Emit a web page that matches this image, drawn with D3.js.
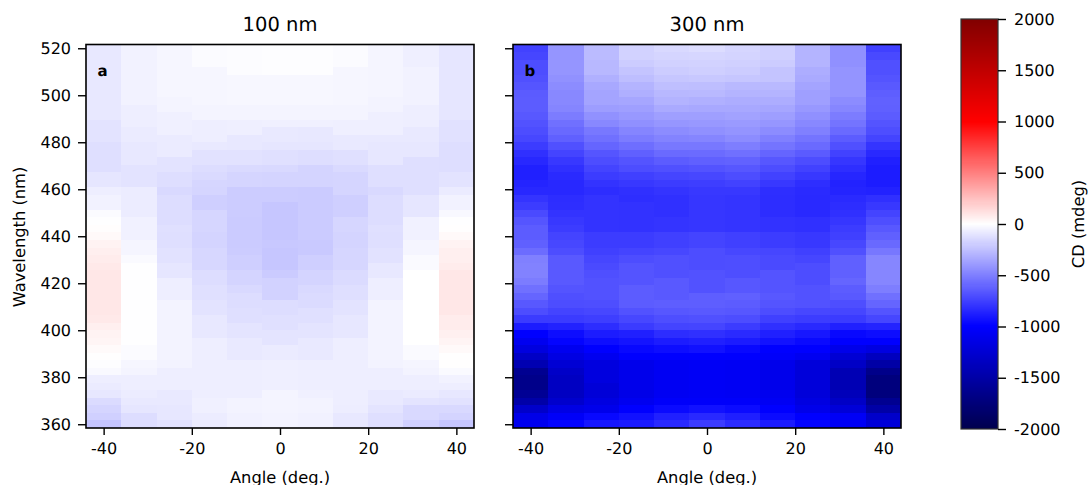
<!DOCTYPE html>
<html>
<head>
<meta charset="utf-8">
<script src="https://cdn.jsdelivr.net/npm/d3@7"></script>
<style>
  body { margin: 0; background: #fff; }
  text { font-family: "DejaVu Sans", sans-serif; fill: #000; text-rendering: geometricPrecision; }
</style>
</head>
<body>
<script>
// angle columns and wavelength rows (top row first)
var angles = [-40, -32, -24, -16, -8, 0, 8, 16, 24, 32, 40];
var wavelengths = [520, 516.8, 513.6, 510.4, 507.2, 504, 500.8, 497.6, 494.4, 491.2, 488, 484.8, 481.6, 478.4, 475.2, 472, 468.8, 465.6, 462.4, 459.2, 456, 452.8, 449.6, 446.4, 443.2, 440, 436.8, 433.6, 430.4, 427.2, 424, 420.8, 417.6, 414.4, 411.2, 408, 404.8, 401.6, 398.4, 395.2, 392, 388.8, 385.6, 382.4, 379.2, 376, 372.8, 369.6, 366.4, 363.2, 360];
var xTicks = [-40, -20, 0, 20, 40];
var yTicks = [360, 380, 400, 420, 440, 460, 480, 500, 520];
var cbarTicks = [-2000, -1500, -1000, -500, 0, 500, 1000, 1500, 2000];

// CD values for the 100 nm panel, one list per angle
var cd100 = [
  [-90,-90,-90,-90,-90,-90,-90,-90,-90,-90,-110,-110,-110,-125,-125,-125,-125,-100,-100,-65,-50,-50,-15,-3,6,24,46,62,75,85,94,94,94,94,94,94,85,62,46,38,20,3,-8,-25,-65,-80,-95,-140,-165,-185,-230],
  [-50,-50,-50,-50,-50,-50,-50,-50,-65,-65,-65,-80,-80,-90,-90,-90,-110,-110,-110,-75,-75,-75,-75,-55,-55,-55,-40,-40,-20,-2,-2,-2,-2,-2,-2,-2,-2,-2,-2,-2,-15,-15,-35,-45,-65,-65,-75,-85,-100,-135,-135],
  [-35,-35,-35,-35,-35,-35,-35,-45,-45,-60,-60,-60,-80,-80,-80,-110,-110,-130,-130,-150,-135,-135,-135,-135,-120,-125,-125,-115,-115,-100,-100,-65,-65,-65,-48,-48,-48,-48,-48,-48,-48,-48,-48,-65,-65,-65,-85,-85,-95,-95,-115],
  [-15,-15,-15,-35,-35,-35,-35,-35,-45,-45,-65,-65,-65,-85,-115,-115,-135,-145,-160,-165,-190,-190,-160,-160,-160,-170,-170,-155,-155,-155,-135,-135,-120,-120,-110,-110,-90,-90,-90,-65,-65,-65,-65,-65,-65,-65,-65,-60,-60,-75,-75],
  [-12,-12,-12,-12,-32,-32,-32,-32,-45,-45,-62,-62,-90,-90,-115,-115,-145,-165,-165,-200,-200,-200,-200,-205,-205,-205,-205,-200,-190,-190,-170,-170,-150,-135,-135,-125,-125,-105,-105,-85,-85,-85,-65,-65,-65,-65,-65,-48,-48,-55,-55],
  [-8,-8,-8,-8,-32,-32,-32,-32,-45,-45,-58,-85,-85,-100,-120,-120,-150,-170,-170,-200,-200,-225,-225,-225,-225,-225,-215,-225,-225,-225,-205,-175,-175,-175,-135,-135,-120,-120,-105,-105,-80,-80,-62,-62,-62,-62,-42,-42,-42,-48,-48],
  [-8,-8,-8,-8,-33,-33,-33,-33,-45,-45,-58,-90,-90,-100,-130,-130,-170,-170,-170,-205,-205,-205,-205,-205,-205,-205,-210,-210,-190,-190,-170,-170,-150,-140,-140,-120,-120,-105,-105,-85,-85,-85,-65,-65,-65,-65,-58,-48,-48,-55,-55],
  [-15,-15,-15,-35,-35,-35,-35,-35,-45,-45,-62,-62,-85,-85,-120,-120,-145,-165,-165,-165,-190,-190,-190,-160,-160,-170,-170,-160,-160,-160,-140,-140,-125,-125,-110,-110,-95,-95,-95,-65,-65,-65,-65,-65,-65,-65,-65,-65,-72,-90,-90],
  [-38,-38,-38,-38,-38,-38,-38,-48,-48,-62,-62,-62,-85,-95,-95,-95,-125,-125,-125,-150,-135,-135,-135,-135,-120,-125,-125,-115,-115,-90,-90,-65,-65,-65,-48,-48,-48,-48,-48,-48,-48,-48,-48,-65,-65,-65,-85,-85,-105,-125,-125],
  [-62,-62,-62,-52,-52,-52,-52,-52,-65,-65,-65,-85,-85,-95,-95,-125,-125,-125,-125,-125,-100,-100,-100,-55,-55,-55,-40,-40,-20,-20,0,0,0,0,0,0,0,0,0,0,-18,-18,-38,-48,-65,-65,-78,-105,-150,-150,-185],
  [-100,-100,-100,-100,-100,-100,-100,-100,-100,-100,-118,-118,-118,-130,-130,-130,-130,-110,-110,-80,-52,-52,-28,-5,4,24,46,62,62,75,94,94,94,94,94,94,75,75,58,42,24,3,3,-20,-50,-65,-95,-115,-150,-170,-225]
];

// CD values for the 300 nm panel, one list per angle
var cd300 = [
  [-740,-725,-700,-700,-685,-665,-645,-640,-640,-655,-680,-700,-720,-765,-810,-845,-875,-875,-860,-845,-795,-765,-710,-665,-640,-640,-625,-575,-500,-490,-490,-515,-560,-605,-655,-700,-770,-890,-1000,-1085,-1180,-1320,-1430,-1620,-1660,-1660,-1600,-1490,-1300,-1130,-1085],
  [-415,-415,-415,-415,-430,-450,-465,-465,-480,-515,-560,-590,-625,-685,-735,-780,-810,-835,-845,-845,-825,-820,-800,-780,-765,-735,-720,-700,-650,-650,-650,-650,-670,-690,-700,-735,-770,-865,-950,-985,-1085,-1160,-1240,-1310,-1340,-1340,-1340,-1280,-1150,-1040,-985],
  [-265,-265,-280,-280,-310,-340,-355,-355,-385,-430,-465,-530,-560,-605,-665,-700,-735,-765,-800,-825,-800,-800,-800,-800,-800,-765,-765,-750,-725,-710,-690,-680,-680,-680,-695,-720,-755,-825,-890,-945,-1000,-1085,-1180,-1180,-1180,-1220,-1220,-1170,-1110,-970,-915],
  [-175,-175,-200,-230,-255,-295,-315,-350,-375,-405,-435,-480,-515,-570,-625,-670,-700,-750,-780,-810,-820,-805,-805,-805,-805,-765,-765,-735,-700,-670,-670,-670,-640,-640,-640,-680,-720,-770,-875,-920,-970,-1000,-1110,-1110,-1110,-1110,-1130,-1085,-1000,-935,-900],
  [-150,-165,-180,-200,-225,-250,-280,-300,-335,-375,-410,-450,-485,-530,-585,-640,-685,-730,-765,-795,-810,-810,-810,-795,-795,-750,-750,-720,-685,-685,-685,-650,-650,-650,-630,-660,-695,-735,-825,-890,-950,-1000,-1070,-1070,-1070,-1070,-1070,-1030,-960,-875,-840],
  [-135,-160,-175,-190,-215,-255,-275,-310,-340,-375,-405,-435,-480,-530,-580,-625,-675,-720,-755,-780,-790,-790,-790,-790,-790,-735,-735,-700,-700,-700,-680,-680,-680,-630,-630,-650,-685,-730,-810,-875,-935,-1000,-1050,-1050,-1050,-1050,-1050,-1030,-935,-840,-765],
  [-160,-170,-185,-200,-225,-275,-295,-320,-340,-365,-395,-420,-450,-505,-560,-615,-660,-700,-740,-780,-795,-795,-795,-795,-795,-750,-750,-720,-695,-695,-695,-660,-660,-625,-640,-660,-700,-765,-835,-895,-970,-1000,-1060,-1060,-1060,-1060,-1060,-1030,-955,-880,-830],
  [-185,-185,-200,-230,-230,-275,-295,-320,-350,-380,-410,-450,-500,-545,-605,-660,-700,-740,-780,-820,-825,-825,-825,-805,-805,-765,-765,-725,-710,-710,-670,-670,-670,-655,-670,-700,-750,-810,-875,-930,-1000,-1030,-1110,-1110,-1110,-1110,-1090,-1060,-1000,-955,-895],
  [-295,-295,-295,-320,-335,-355,-375,-375,-405,-435,-465,-500,-545,-585,-645,-700,-740,-780,-820,-835,-840,-840,-840,-810,-810,-780,-780,-750,-725,-700,-700,-700,-680,-680,-680,-720,-765,-840,-910,-960,-1000,-1080,-1210,-1210,-1210,-1210,-1210,-1170,-1120,-1000,-985],
  [-435,-435,-435,-420,-420,-420,-420,-450,-475,-515,-545,-585,-640,-685,-740,-790,-820,-850,-865,-860,-835,-825,-810,-790,-765,-750,-720,-685,-625,-625,-625,-605,-640,-650,-695,-725,-770,-875,-970,-1000,-1120,-1240,-1320,-1420,-1420,-1420,-1390,-1320,-1220,-1050,-1050],
  [-750,-715,-685,-685,-670,-650,-630,-620,-625,-640,-670,-695,-735,-795,-840,-875,-890,-890,-890,-865,-810,-780,-735,-695,-655,-625,-590,-535,-475,-475,-475,-475,-505,-560,-605,-670,-725,-860,-950,-1000,-1170,-1360,-1500,-1660,-1730,-1730,-1730,-1620,-1500,-1300,-1220]
];

var panels = [
  { title: '100 nm', tag: 'a', left: 86, right: 474, values: cd100, yLabels: true },
  { title: '300 nm', tag: 'b', left: 513, right: 901, values: cd300, yLabels: false }
];

var plotTop = 44.5, plotBottom = 428;

// same stops as the seismic colormap
var color = d3.scaleLinear()
  .domain([-2000, -1000, 0, 1000, 2000])
  .range(['rgb(0,0,77)', 'rgb(0,0,255)', 'rgb(255,255,255)', 'rgb(255,0,0)', 'rgb(128,0,0)'])
  .clamp(true);

var svg = d3.select('body').append('svg')
  .attr('width', 1088)
  .attr('height', 485)
  .style('display', 'block');

function styleAxis(g) {
  g.select('.domain').remove();
  g.selectAll('.tick line').attr('stroke', '#000').attr('stroke-width', 1.4);
  g.selectAll('.tick text').attr('font-size', 16).attr('font-family', '"DejaVu Sans", sans-serif');
}

panels.forEach(function (p) {
  var x = d3.scaleLinear().domain([-44, 44]).range([p.left, p.right]);
  var y = d3.scaleLinear().domain([358.4, 521.6]).range([plotBottom, plotTop]);
  var g = svg.append('g');

  // one rect per angle/wavelength cell
  angles.forEach(function (a, ci) {
    g.selectAll(null)
      .data(wavelengths)
      .enter()
      .append('rect')
      .attr('x', x(a - 4))
      .attr('width', x(a + 4) - x(a - 4))
      .attr('y', function (w) { return y(w + 1.6); })
      .attr('height', function (w) { return y(w - 1.6) - y(w + 1.6); })
      .attr('fill', function (w, ri) { return color(p.values[ci][ri]); })
      .attr('shape-rendering', 'crispEdges');
  });

  g.append('rect')
    .attr('x', p.left).attr('y', plotTop)
    .attr('width', p.right - p.left).attr('height', plotBottom - plotTop)
    .attr('fill', 'none').attr('stroke', '#000').attr('stroke-width', 1.6);

  g.append('g')
    .attr('transform', 'translate(0,' + plotBottom + ')')
    .call(d3.axisBottom(x).tickValues(xTicks).tickSize(7).tickPadding(8).tickFormat(String))
    .call(styleAxis);

  g.append('g')
    .attr('transform', 'translate(' + p.left + ',0)')
    .call(d3.axisLeft(y).tickValues(yTicks).tickSize(8).tickPadding(7)
      .tickFormat(p.yLabels ? String : function () { return ''; }))
    .call(styleAxis);

  g.append('text')
    .attr('x', (p.left + p.right) / 2).attr('y', 31)
    .attr('text-anchor', 'middle').attr('font-size', 19.5)
    .text(p.title);

  g.append('text')
    .attr('x', (p.left + p.right) / 2).attr('y', 482.5)
    .attr('text-anchor', 'middle').attr('font-size', 16.3)
    .text('Angle (deg.)');

  g.append('text')
    .attr('x', p.left + 11.5).attr('y', 76)
    .attr('font-size', 15).attr('font-weight', 'bold')
    .text(p.tag);
});

svg.append('text')
  .attr('transform', 'translate(25,237) rotate(-90)')
  .attr('text-anchor', 'middle').attr('font-size', 16.3)
  .text('Wavelength (nm)');

// colorbar
var cbLeft = 961, cbRight = 998, cbTop = 19, cbBottom = 429;
var cbScale = d3.scaleLinear().domain([-2000, 2000]).range([cbBottom, cbTop]);

svg.append('g').selectAll('rect')
  .data(d3.range(-2000, 2000, 10))
  .enter()
  .append('rect')
  .attr('x', cbLeft)
  .attr('width', cbRight - cbLeft)
  .attr('y', function (d) { return cbScale(d + 10); })
  .attr('height', function (d) { return cbScale(d) - cbScale(d + 10); })
  .attr('fill', function (d) { return color(d + 5); })
  .attr('shape-rendering', 'crispEdges');

svg.append('rect')
  .attr('x', cbLeft).attr('y', cbTop)
  .attr('width', cbRight - cbLeft).attr('height', cbBottom - cbTop)
  .attr('fill', 'none').attr('stroke', '#333').attr('stroke-width', 1.2);

svg.append('g')
  .attr('transform', 'translate(' + cbRight + ',0)')
  .call(d3.axisRight(cbScale).tickValues(cbarTicks).tickSize(8).tickPadding(8).tickFormat(String))
  .call(styleAxis);

svg.append('text')
  .attr('transform', 'translate(1084,224) rotate(-90)')
  .attr('text-anchor', 'middle').attr('font-size', 16.3)
  .text('CD (mdeg)');
</script>
</body>
</html>
